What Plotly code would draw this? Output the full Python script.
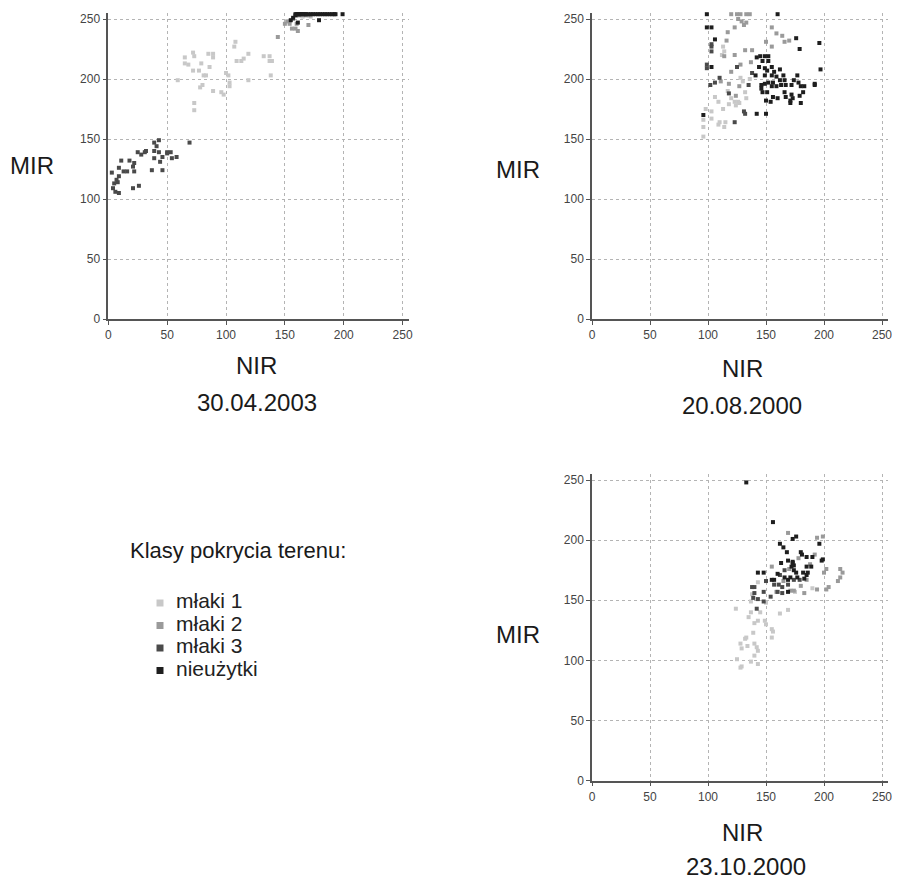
import plotly.graph_objects as go

# ---------------- data ----------------
classes = ["młaki 1", "młaki 2", "młaki 3", "nieużytki"]
class_colors = ["#c8c8c8", "#9a9a9a", "#4a4a4a", "#1e1e1e"]
dates = ["30.04.2003", "20.08.2000", "23.10.2000"]
ticks = [0, 50, 100, 150, 200, 250]

# 30.04.2003
p1_m1_x = [59, 65, 65, 68, 72, 73, 72, 77, 79, 81, 83, 86, 85, 89, 89, 78, 80, 73, 73, 89, 96, 98, 100, 102, 103, 103, 107, 108, 109, 113, 115, 119, 119, 132, 137, 137, 139, 138, 154, 165, 172]
p1_m1_y = [199, 218, 213, 212, 222, 219, 207, 207, 213, 203, 203, 210, 221, 221, 218, 193, 195, 180, 174, 190, 189, 187, 205, 203, 197, 194, 227, 231, 215, 215, 217, 221, 199, 219, 219, 215, 215, 203, 248, 252, 252]
p1_m2_x = [144, 150, 152, 154, 156, 159, 161, 160, 170, 162, 168, 171, 157]
p1_m2_y = [235, 246, 248, 246, 242, 242, 240, 246, 245, 253, 253, 253, 250]
p1_m3_x = [3, 4, 6, 9, 8, 9, 9, 11, 13, 16, 18, 21, 22, 22, 21, 26, 25, 28, 31, 32, 37, 39, 41, 39, 39, 43, 43, 44, 46, 46, 50, 50, 53, 54, 58, 69, 7, 5]
p1_m3_y = [122, 109, 106, 105, 114, 119, 126, 132, 123, 123, 132, 127, 130, 123, 109, 111, 139, 137, 139, 140, 124, 147, 144, 140, 134, 149, 139, 131, 124, 135, 139, 138, 139, 134, 135, 147, 116, 113]
p1_m4_x = [159, 160, 161, 162, 163, 164, 165, 166, 167, 168, 170, 172, 174, 176, 178, 180, 182, 184, 186, 188, 190, 192, 193, 199, 157, 155, 161, 179, 159]
p1_m4_y = [254, 254, 254, 254, 254, 254, 254, 254, 254, 254, 254, 254, 254, 254, 254, 254, 254, 254, 254, 254, 254, 254, 254, 254, 251, 249, 247, 249, 253]

# 20.08.2000
p2_m1_x = [113, 114, 112, 109, 113, 98, 96, 96, 109, 115, 123, 126, 127, 118, 132, 130, 103, 96, 103, 110, 114, 120, 128, 136, 106, 117, 124, 133]
p2_m1_y = [227, 223, 220, 181, 175, 175, 166, 160, 162, 164, 181, 181, 180, 179, 189, 198, 173, 152, 167, 164, 160, 184, 201, 200, 185, 190, 178, 184]
p2_m2_x = [120, 125, 128, 133, 136, 131, 133, 117, 123, 155, 159, 164, 166, 155, 132, 116, 123, 114, 137, 128, 118, 127, 120, 111, 124, 138, 150, 170, 126, 129]
p2_m2_y = [254, 254, 254, 254, 254, 245, 247, 239, 243, 243, 238, 236, 231, 227, 224, 232, 220, 219, 214, 212, 196, 194, 206, 198, 186, 224, 231, 232, 250, 248]
p2_m3_x = [103, 103, 103, 99, 99, 102, 106, 131, 132, 135, 125, 123, 138, 118, 110]
p2_m3_y = [229, 227, 223, 212, 209, 195, 197, 173, 171, 195, 210, 164, 205, 188, 201]
p2_m4_x = [99, 160, 99, 103, 106, 103, 96, 176, 179, 196, 197, 192, 192, 142, 145, 149, 152, 152, 147, 144, 149, 151, 155, 157, 155, 159, 162, 165, 166, 162, 156, 152, 149, 146, 146, 147, 151, 155, 159, 163, 167, 166, 172, 174, 177, 178, 180, 183, 182, 179, 172, 173, 171, 167, 160, 156, 154, 150, 180, 171, 142, 150, 141, 149]
p2_m4_y = [254, 254, 243, 243, 233, 210, 170, 234, 225, 230, 208, 196, 195, 218, 219, 219, 219, 215, 215, 210, 209, 207, 210, 206, 203, 202, 208, 203, 199, 199, 197, 197, 196, 195, 192, 189, 189, 194, 194, 195, 195, 189, 195, 199, 203, 197, 194, 194, 189, 186, 187, 184, 180, 185, 184, 185, 181, 182, 180, 182, 171, 171, 203, 203]

# 23.10.2000
p3_m1_x = [143, 137, 124, 137, 140, 143, 149, 162, 169, 155, 156, 155, 139, 140, 133, 128, 129, 134, 142, 143, 125, 129, 137, 143, 140, 128, 135, 145, 150, 138, 132, 150, 175, 190]
p3_m1_y = [165, 149, 143, 140, 131, 133, 133, 139, 142, 126, 124, 119, 123, 114, 119, 114, 110, 112, 111, 108, 101, 95, 99, 97, 104, 94, 136, 140, 130, 155, 118, 148, 157, 160]
p3_m2_x = [169, 194, 199, 192, 202, 214, 216, 212, 204, 202, 194, 183, 174, 171, 185, 159, 178, 188, 170, 165, 180, 155, 200, 214]
p3_m2_y = [206, 202, 203, 188, 176, 176, 173, 166, 161, 159, 159, 156, 158, 158, 167, 157, 185, 180, 176, 166, 162, 178, 173, 169]
p3_m3_x = [138, 140, 139, 140, 143, 142, 148, 148, 154, 150, 157, 161, 164, 166, 162, 169, 174, 179, 160, 164]
p3_m3_y = [161, 161, 152, 156, 151, 143, 149, 157, 153, 166, 163, 163, 161, 175, 171, 163, 167, 167, 157, 156]
p3_m4_x = [133, 156, 162, 165, 173, 176, 168, 180, 181, 185, 196, 199, 198, 143, 148, 155, 157, 160, 163, 169, 173, 174, 173, 172, 174, 176, 182, 186, 169, 166, 171, 177, 183, 185, 189, 190, 185, 169]
p3_m4_y = [248, 215, 197, 194, 201, 203, 190, 190, 188, 186, 197, 184, 183, 173, 173, 167, 167, 172, 181, 183, 182, 179, 181, 178, 175, 173, 173, 173, 167, 169, 169, 169, 168, 171, 178, 186, 178, 157]

panels = [
    [(p1_m1_x, p1_m1_y), (p1_m2_x, p1_m2_y), (p1_m3_x, p1_m3_y), (p1_m4_x, p1_m4_y)],
    [(p2_m1_x, p2_m1_y), (p2_m2_x, p2_m2_y), (p2_m3_x, p2_m3_y), (p2_m4_x, p2_m4_y)],
    [(p3_m1_x, p3_m1_y), (p3_m2_x, p3_m2_y), (p3_m3_x, p3_m3_y), (p3_m4_x, p3_m4_y)],
]

# ---------------- figure ----------------
# the page body has an 8px margin, so the figure is shifted by 8px
OFF = 8
W, H = 900 - OFF, 880 - OFF
FONT = "Liberation Sans, Arial, sans-serif"
fig = go.Figure()

axis_suffix = ["", "2", "3"]
for pi, panel in enumerate(panels):
    for ci, (xs, ys) in enumerate(panel):
        fig.add_trace(go.Scatter(
            x=xs, y=ys, mode="markers", name=classes[ci], showlegend=False,
            marker=dict(symbol="square", size=4, color=class_colors[ci], line=dict(width=0)),
            xaxis="x" + axis_suffix[pi], yaxis="y" + axis_suffix[pi], cliponaxis=False,
        ))

# legend drawn as a small scatter in its own hidden axes
fig.add_trace(go.Scatter(
    x=[0] * len(classes), y=list(range(len(classes))), mode="markers", showlegend=False,
    marker=dict(symbol="square", size=7, color=class_colors, line=dict(width=0)),
    xaxis="x4", yaxis="y4", cliponaxis=False, hoverinfo="skip",
))
fig.add_trace(go.Scatter(
    x=[1] * len(classes), y=list(range(len(classes))), mode="text", text=classes,
    textposition="middle right", showlegend=False,
    textfont=dict(size=21, color="#222222", family=FONT),
    xaxis="x4", yaxis="y4", cliponaxis=False, hoverinfo="skip",
))

def px_x(p):
    return (p - OFF) / W

def px_y(p):
    return 1 - (p - OFF) / H

common_axis = dict(
    range=[0, 255], tickvals=ticks, showgrid=True, gridcolor="#b4b4b4", gridwidth=1,
    griddash="3px,3px", showline=True, linecolor="#555555", linewidth=1.5,
    ticks="outside", ticklen=4, tickcolor="#555555", tickwidth=1,
    tickfont=dict(size=12, color="#444444", family=FONT), zeroline=False,
    automargin=False, ticklabeloverflow="allow",
)

# pixel boxes in the screenshot: (left, right, top, bottom)
# right panels kept slightly narrower so the last tick label stays visible
boxes = [
    (108.3, 408.5, 13, 319),
    (592.0, 887.8, 13, 319),
    (592.0, 887.8, 474, 780.7),
]
layout_axes = {}
for pi, (l, r, t, b) in enumerate(boxes):
    sx = axis_suffix[pi]
    layout_axes["xaxis" + sx] = dict(common_axis, domain=[px_x(l), px_x(r)], anchor="y" + sx)
    layout_axes["yaxis" + sx] = dict(common_axis, domain=[px_y(b), px_y(t)], anchor="x" + sx)

layout_axes["xaxis4"] = dict(domain=[px_x(150), px_x(350)], range=[-10 / 16, 190 / 16],
                             visible=False, anchor="y4", automargin=False)
layout_axes["yaxis4"] = dict(domain=[px_y(684), px_y(590)], range=[(684 - 603) / 22.5, -(603 - 590) / 22.5],
                             visible=False, anchor="x4", automargin=False)

annotations = []
def label(text, x, y, size=24, anchor="center"):
    annotations.append(dict(text=text, x=px_x(x), y=px_y(y), xref="paper", yref="paper",
                            showarrow=False, xanchor=anchor, yanchor="middle",
                            font=dict(size=size, color="#1a1a1a", family=FONT)))

mir_pos = [(32, 166), (518, 170), (518, 634)]
nir_pos = [(256, 365), (742, 369), (742, 832)]
date_pos = [(257, 402), (742, 405), (746, 866)]
for pi in range(3):
    label("MIR", *mir_pos[pi])
    label("NIR", *nir_pos[pi])
    label(dates[pi], *date_pos[pi])
label("Klasy pokrycia terenu:", 128, 550, size=22, anchor="left")

fig.update_layout(
    width=W, height=H, margin=dict(l=0, r=0, t=0, b=0, autoexpand=False),
    paper_bgcolor="white", plot_bgcolor="white",
    font=dict(family=FONT), annotations=annotations, showlegend=False,
    **layout_axes,
)

fig.write_html("out.html", default_width=f"{W}px", default_height=f"{H}px")
